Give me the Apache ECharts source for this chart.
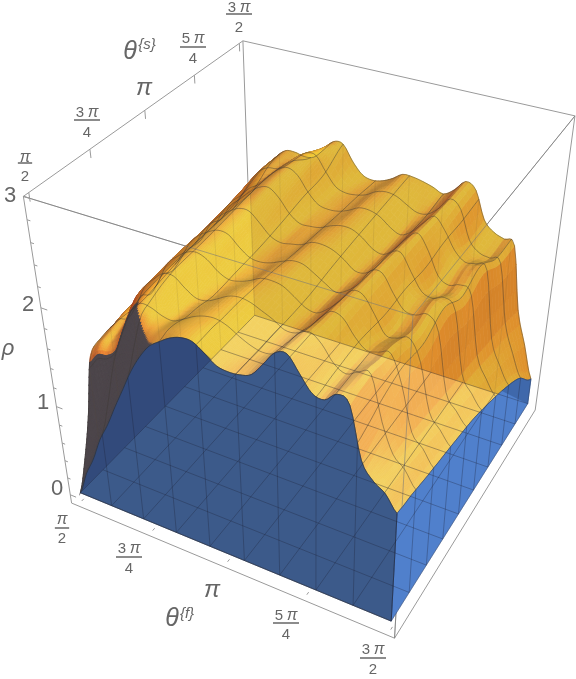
<!DOCTYPE html>
<html>
<head>
<meta charset="utf-8">
<style>html,body{margin:0;padding:0;background:#fff}#chart{width:576px;height:679px}</style>
<script src="https://cdn.jsdelivr.net/npm/echarts@6/dist/echarts.min.js"></script>
</head>
<body>
<div id="chart"></div>
<script>
// theta values in units of pi
var thetaF = [0.5,0.533,0.567,0.6,0.633,0.667,0.7,0.733,0.767,0.8,0.833,0.867,0.9,0.933,0.967,1,1.033,1.067,1.1,1.133,1.167,1.2,1.233,1.267,1.3,1.333,1.367,1.4,1.433,1.467,1.5];
var thetaS = [0.5,0.54,0.58,0.62,0.68,0.75,0.875,1,1.125,1.25,1.375,1.5];

// rho read along thetaF, one list per thetaS
var rho00 = [0,.27,.48,.74,.94,1.17,1.39,1.61,1.79,1.93,2.01,2.08,2.12,2.12,2.05,1.97,1.95,1.96,2,2.13,2.27,2.3,2.16,2.02,2,2.09,2.03,1.56,1.4,1.32,1.17];
var rho01 = [.3,.45,.7,.98,1.2,1.44,1.66,1.82,1.92,1.98,2.04,2.09,2.12,2.12,2.06,1.98,1.95,1.96,2,2.11,2.25,2.29,2.17,2.03,2,2.08,2.05,1.59,1.41,1.31,1.15];
var rho02 = [.7,.92,1.06,1.28,1.54,1.78,1.95,1.98,1.97,1.98,2.03,2.08,2.11,2.12,2.08,2.01,1.96,1.95,1.99,2.09,2.23,2.28,2.19,2.05,2,2.07,2.06,1.63,1.4,1.3,1.14];
var rho03 = [1.25,1.36,1.38,1.47,1.72,1.93,2.03,2.02,1.97,1.95,2,2.06,2.1,2.11,2.08,2.02,1.97,1.94,1.96,2.07,2.21,2.27,2.2,2.06,2,2.05,2.07,1.68,1.39,1.28,1.12];
var rho04 = [1.34,1.44,1.47,1.64,1.88,2,2.08,2.08,2.01,1.96,1.99,2.04,2.09,2.11,2.09,2.04,1.99,1.94,1.95,2.03,2.16,2.25,2.21,2.08,1.99,2.01,2.04,1.74,1.37,1.25,1.09];
var rho05 = [1.36,1.5,1.55,1.71,1.91,2.02,2.11,2.12,2.04,1.97,1.96,2.01,2.07,2.1,2.09,2.05,2,1.93,1.93,2,2.13,2.24,2.22,2.08,1.98,2,2.02,1.78,1.34,1.21,1.06];
var rho06 = [1.34,1.52,1.57,1.74,1.94,2.04,2.11,2.15,2.13,2.04,1.98,1.98,2.01,2.07,2.09,2.08,2.01,1.94,1.91,1.98,2.08,2.22,2.22,2.07,1.89,1.89,1.93,1.76,1.29,1.14,1.01];
var rho07 = [1.39,1.55,1.63,1.76,1.94,2.06,2.13,2.18,2.17,2.08,2,1.98,2,2.03,2.08,2.08,2.04,1.98,1.91,1.94,2.04,2.2,2.22,2.06,1.96,1.94,1.98,1.86,1.24,1.08,.95];
var rho08 = [1.44,1.6,1.71,1.78,1.96,2.06,2.15,2.22,2.24,2.16,2.04,1.98,1.99,2.01,2.06,2.08,2.07,2.01,1.93,1.92,2.01,2.15,2.22,2.07,1.84,1.79,1.83,1.75,1.2,1,.85];
var rho09 = [1.46,1.63,1.76,1.84,1.96,2.04,2.15,2.24,2.28,2.22,2.09,2,1.98,1.99,2.03,2.08,2.08,2.04,1.96,1.92,1.99,2.11,2.2,2.08,1.93,1.85,1.87,1.83,1.15,.9,.73];
var rho10 = [1.46,1.63,1.8,1.94,2.01,2.03,2.1,2.2,2.28,2.27,2.12,2,1.97,1.98,2.01,2.07,2.09,2.07,2.01,1.96,1.98,2.07,2.19,2.11,1.84,1.74,1.72,1.7,1.1,.8,.57];
var rho11 = [1.46,1.62,1.8,1.94,2.03,2.04,2.02,2.04,2.14,2.25,2.25,2.1,1.99,1.96,1.98,2.03,2.1,2.1,2.08,2.05,2.01,2.08,2.19,2.13,1.86,1.76,1.72,1.68,1.02,.66,.3];
var rhoRows = [rho00,rho01,rho02,rho03,rho04,rho05,rho06,rho07,rho08,rho09,rho10,rho11];

var rhoTicks = [0,1,2,3];
var rhoTickLabels = [['0',57,489],['1',43,403],['2',28,305],['3',10,196]];
var fTickLabels = [['',62,520,528,539,'2'],['3',129,549,557,569,'4'],null,['5',286,616,623,635,'4'],['3',373,650,658,670,'2']];
var sTickLabels = [['',25,158,163,177,'2'],['3',87,113,120,133,'4'],null,['5',193,39,47,59,'4'],['3',239,8,14,28,'2']];

// box anchors on the page: [u, v, w, px, py]
var anchors = [[0,0,1,23,196],[0,1,1,243,40],[1,1,1,575,116],[1,0,1,413,315],[0,0,0,71,503],[1,0,0,394,639],[1,1,0,535,410],[.5,0,0,225,566],[0,.5,1,145,112]];

function solve(A,b){
    var n = b.length, i, j, k;
    for(i=0;i<n;i++){
        var p = i;
        for(j=i+1;j<n;j++){ if(Math.abs(A[j][i])>Math.abs(A[p][i])) p=j; }
        var t=A[i];A[i]=A[p];A[p]=t; t=b[i];b[i]=b[p];b[p]=t;
        for(j=i+1;j<n;j++){
            var f=A[j][i]/A[i][i];
            for(k=i;k<n;k++){ A[j][k]-=f*A[i][k]; }
            b[j]-=f*b[i];
        }
    }
    var x=[];
    for(i=n-1;i>=0;i--){
        var s=b[i];
        for(k=i+1;k<n;k++){ s-=A[i][k]*x[k]; }
        x[i]=s/A[i][i];
    }
    return x;
}
function fitCamera(){
    var N=[],r=[],i,j,k;
    for(i=0;i<11;i++){ N.push(new Array(11).fill(0)); r.push(0); }
    anchors.forEach(function(a){
        var u=a[0],v=a[1],w=a[2],x=a[3],y=a[4];
        [[u,v,w,1,0,0,0,0,-x*u,-x*v,-x*w,x],[0,0,0,0,u,v,w,1,-y*u,-y*v,-y*w,y]].forEach(function(e){
            for(j=0;j<11;j++){
                for(k=0;k<11;k++){ N[j][k]+=e[j]*e[k]; }
                r[j]+=e[j]*e[11];
            }
        });
    });
    return solve(N,r);
}
var cam = fitCamera();
function boxPx(u,v,w){
    var d=cam[8]*u+cam[9]*v+cam[10]*w+1;
    return [(cam[0]*u+cam[1]*v+cam[2]*w+cam[3])/d,(cam[4]*u+cam[5]*v+cam[6]*w+cam[7])/d];
}
function toU(t){ return .02+.96*t; }
function toW(r){ return (r+.1)/3.1; }
function px(t,v,r){ return boxPx(toU(t),toU(v),toW(r)); }

function cr(a,b,c,d,x){
    return b+.5*x*(c-a+x*(2*a-5*b+4*c-d+x*(3*(b-c)+d-a)));
}
function vPos(v){
    var th=.5+v,j=0;
    while(j<thetaS.length-2 && thetaS[j+1]<th){ j++; }
    return j+(th-thetaS[j])/(thetaS[j+1]-thetaS[j]);
}
function rowAt(row,x){
    var n=row.length-1,i=Math.min(Math.floor(x),n-1),f=x-i;
    return cr(row[Math.max(i-1,0)],row[i],row[i+1],row[Math.min(i+2,n)],f);
}
function rhoAt(t,v){
    var x=t*(thetaF.length-1),y=vPos(v),n=rhoRows.length-1,j=Math.min(Math.floor(y),n-1),f=y-j;
    var val=cr(rowAt(rhoRows[Math.max(j-1,0)],x),rowAt(rhoRows[j],x),rowAt(rhoRows[j+1],x),rowAt(rhoRows[Math.min(j+2,n)],x),f);
    return Math.max(val,0);
}

// view basis of the box, used for lighting and depth order
var R1=[.79,.455,.03],R2=[-.31,.478,.92],R3=[.404,-.736,.519];
var HGT=.8;
var lights=[[[.62,.25,.25],[.707,0,.707]],[[.25,.8,.25],[.577,.577,.577]],[[.25,.25,.8],[0,.707,.707]],[[.42,.18,.04],[-.75,.2,.63]]];
var ambient=[.3,.188,.4],baseColor=[.84,.56,.14];
function dot(a,b){ return a[0]*b[0]+a[1]*b[1]+a[2]*b[2]; }
function shade(n){
    var l=Math.sqrt(dot(n,n)),c=[dot(R1,n)/l,dot(R2,n)/l,dot(R3,n)/l];
    var I=ambient.slice();
    lights.forEach(function(li){
        var d=Math.max(0,dot(c,li[1]));
        I[0]+=li[0][0]*d; I[1]+=li[0][1]*d; I[2]+=li[0][2]*d;
    });
    return 'rgb('+[0,1,2].map(function(k){ return Math.round(255*Math.min(.95,baseColor[k]*I[k])); }).join(',')+')';
}

var items=[];
function line(pts,stroke,lw){ items.push({kind:'line',pts:pts,stroke:stroke,lw:lw}); }
function poly(pts,fill,lw){ items.push({kind:'poly',pts:pts,fill:fill,lw:lw===undefined?.5:lw}); }
function label(x,y,text,size,italic){ items.push({kind:'text',x:x,y:y,text:text,size:size,italic:italic}); }
function edge(a,b,stroke,lw){ line([boxPx(a[0],a[1],a[2]),boxPx(b[0],b[1],b[2])],stroke,lw); }

var FRAME='#9a9a9a';
// frame behind the surface
[[[0,0,1],[0,1,1]],[[0,1,1],[1,1,1]],[[0,0,1],[1,0,1]],[[1,0,1],[1,1,1]],[[1,1,1],[1,1,0]],[[0,0,1],[0,0,0]],[[0,0,0],[1,0,0]],[[1,0,0],[1,1,0]],[[1,0,1],[1,0,0]],[[0,1,1],[0,1,0]]].forEach(function(e){
    edge(e[0],e[1],FRAME,1);
});

// surface patches, finer where the underside ends
var ts=[],vs=[],i,j;
for(i=0;i<60;i++){ ts.push(i/180); }
for(i=30;i<=90;i++){ ts.push(i/90); }
for(i=0;i<28;i++){ vs.push(i*.005); }
for(j=3;j<thetaS.length-1;j++){
    var dv=thetaS[j+1]-thetaS[j],nv=Math.ceil(dv/.03);
    for(i=0;i<nv;i++){ var vv=thetaS[j]-.5+dv*i/nv; if(vv>=.14){ vs.push(vv); } }
}
vs.push(1);
var patches=[],underside=[];
for(i=0;i<ts.length-1;i++){
    for(j=0;j<vs.length-1;j++){
        var t0=ts[i],t1=ts[i+1],v0=vs[j],v1=vs[j+1];
        var r00=rhoAt(t0,v0),r10=rhoAt(t1,v0),r01=rhoAt(t0,v1),r11=rhoAt(t1,v1);
        var zs=HGT/3.1;
        var n=[-(r10+r11-r00-r01)/2*zs/(.96*(t1-t0)),-(r01+r11-r00-r10)/2*zs/(.96*(v1-v0)),1];
        var tm=(t0+t1)/2,vm=(v0+v1)/2,rm=(r00+r10+r01+r11)/4;
        var pts=[px(t0,v0,r00),px(t1,v0,r10),px(t1,v1,r11),px(t0,v1,r01)];
        if(vm<.115 && (tm<.19 || vm<.91*(.3-tm))){
            underside.push(pts);
        } else {
            patches.push({depth:dot(R3,[toU(tm),toU(vm),HGT*toW(rm)]),pts:pts,fill:shade(n)});
        }
    }
}
patches.sort(function(a,b){ return a.depth-b.depth; });
patches.forEach(function(p){ poly(p.pts,p.fill,.7); });

function profileV(t,a,b,rev){
    var out=[],k,K=60;
    for(k=0;k<=K;k++){ var v=a+(b-a)*k/K; out.push(px(t,v,rhoAt(t,v))); }
    return rev?out.reverse():out;
}
function profileT(v,a,b){
    var out=[],k,K=120;
    for(k=0;k<=K;k++){ var t=a+(b-a)*k/K; out.push(px(t,v,rhoAt(t,v))); }
    return out;
}
// what shows through the surface: left wall, back wall, floor
poly(profileV(0,.12,1).concat([px(0,1,0),px(0,.12,0)]),'rgba(215,195,100,.18)',0);
poly(profileT(1,0,1).concat([px(1,1,0),px(0,1,0)]),'rgba(150,100,70,.20)',0);
poly([px(0,0,0),px(1,0,0),px(1,1,0),px(0,1,0)],'rgba(245,215,170,.36)',0);
underside.forEach(function(p){ poly(p,'#4d464b',1.1); });

// faint box edges over the surface
[[[0,0,1],[1,0,1]],[[1,0,1],[1,1,1]],[[1,0,1],[1,0,0]]].forEach(function(e){ edge(e[0],e[1],'rgba(120,120,120,.55)',1); });

// faint wall lines seen through the surface
var k;
for(k=0;k<=9;k++){
    line([px(k/9,1,0),px(k/9,1,rhoAt(k/9,1))],'rgba(90,70,50,.14)',.8);
    line([px(0,k/9,0),px(0,k/9,rhoAt(0,k/9))],'rgba(90,70,50,.14)',.8);
    line([px(k/9,0,0),px(k/9,1,0)],'rgba(90,70,50,.14)',.8);
    line([px(0,k/9,0),px(1,k/9,0)],'rgba(90,70,50,.14)',.8);
}

// surface mesh
var MESH='rgba(60,55,50,.55)';
for(k=0;k<=9;k++){
    line(profileV(k/9,0,1),MESH,.8);
    line(profileT(k/9,0,1),MESH,.8);
}

// blue cut faces
poly(profileT(0,0,1).concat([px(1,0,0),px(0,0,0)]),'#3c5a8a');
poly(profileV(1,0,1).concat([px(1,1,0),px(1,0,0)]),'#5080cc');
poly(profileV(1,.72,1).concat([px(1,1,0)]),'#3f68ab');
poly([px(0,0,0),px(0,.72,0)].concat(profileT(0,.445,0)),'rgba(30,40,90,.30)',0);

// lines on the blue faces
var GRID='rgba(25,30,50,.38)';
for(k=0;k<=9;k++){
    line([px(k/9,0,0),px(k/9,1,0)],GRID,.8);
    line([px(0,k/9,0),px(1,k/9,0)],GRID,.8);
    line([px(k/9,0,0),px(k/9,0,rhoAt(k/9,0))],GRID,.8);
    line([px(1,k/9,0),px(1,k/9,rhoAt(1,k/9))],GRID,.8);
}
line(profileT(0,0,1),'rgba(40,40,40,.8)',.7);
line(profileV(1,0,1),'rgba(40,40,40,.6)',.7);
line([px(1,0,0),px(1,0,rhoAt(1,0))],'rgba(30,40,60,.7)',.8);
line([px(0,0,0),px(1,0,0)],'rgba(30,40,60,.7)',.8);

// ticks
for(k=0;k<5;k++){
    var a=k/4;
    line([px(a,0,-.1),boxPx(toU(a),.03,0)],FRAME,1);
    line([boxPx(0,toU(a),1),boxPx(0,toU(a),.975)],FRAME,1);
}
for(k=0;k<=15;k++){
    var rv=k/5,major=k%5===0;
    line([boxPx(0,0,toW(rv)),boxPx(major?.02:.01,0,toW(rv))],FRAME,1);
}
rhoTicks.forEach(function(t,idx){ var l=rhoTickLabels[idx]; label(l[1],l[2],l[0],22,false); });
function fraction(f){
    if(!f){ return; }
    if(f[0]){ label(f[1]-7,f[2],f[0],15,false); label(f[1]+6,f[2],'π',16,true); }
    else { label(f[1],f[2],'π',16,true); }
    line([[f[1]-13*(f[0]?1:.55),f[3]],[f[1]+13*(f[0]?1:.55),f[3]]],'#666',1.5);
    label(f[1],f[4],f[5],15,false);
}
fTickLabels.forEach(fraction);
sTickLabels.forEach(fraction);
label(212,590,'π',24,true);
label(144,88,'π',24,true);
label(8,349,'ρ',22,true);
label(130,52,'θ',25,true);
label(147,45,'{s}',15,true);
label(172,619,'θ',25,true);
label(187,614,'{f}',15,true);

var chart = echarts.init(document.getElementById('chart'));
chart.setOption({
    animation:false,
    grid:{left:0,right:0,top:0,bottom:0},
    xAxis:{type:'value',min:0,max:576,show:false},
    yAxis:{type:'value',min:0,max:679,inverse:true,show:false},
    series:[{
        type:'custom',
        silent:true,
        clip:false,
        progressive:0,
        data:items.map(function(it,idx){ return [idx]; }),
        renderItem:function(params,api){
            var it=items[api.value(0)];
            if(it.kind==='text'){
                var c=api.coord([it.x,it.y]);
                return {type:'text',x:c[0],y:c[1],style:{text:it.text,fill:'#666',font:(it.italic?'italic ':'')+it.size+'px "Liberation Sans"',align:'center',verticalAlign:'middle'}};
            }
            var pts=it.pts.map(function(p){ return api.coord(p); });
            if(it.kind==='line'){
                return {type:'polyline',shape:{points:pts},style:{fill:null,stroke:it.stroke,lineWidth:it.lw}};
            }
            return {type:'polygon',shape:{points:pts},style:{fill:it.fill,stroke:it.lw?it.fill:null,lineWidth:it.lw}};
        }
    }]
});
</script>
</body>
</html>
